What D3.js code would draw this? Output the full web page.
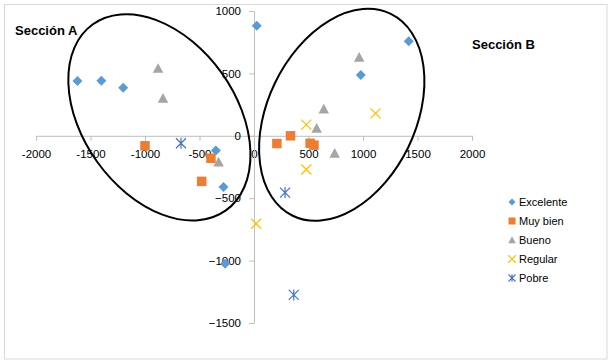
<!DOCTYPE html>
<html><head><meta charset="utf-8">
<script src="https://cdn.jsdelivr.net/npm/d3@7"></script>
<style>body{margin:0;background:#fff}svg{display:block}</style>
</head><body>
<svg id="c" width="611" height="363"></svg>
<script>
const xTicks = [-2000,-1500,-1000,-500,0,500,1000,1500,2000];
const yTicks = [-1500,-1000,-500,0,500,1000];
const seriesNames = ["Excelente","Muy bien","Bueno","Regular","Pobre"];
const excelente = [[-1620,440],[-1400,442],[-1200,385],[25,882],[-350,-118],[-280,-410],[-265,-1025],[1420,757],[980,487]];
const muyBien = [[-1000,-80],[-395,-180],[-480,-365],[210,-62],[335,0],[515,-60],[550,-75]];
const bueno = [[-880,540],[-835,300],[-325,-210],[965,630],[640,215],[575,60],[740,-140]];
const regular = [[480,90],[480,-270],[1115,180],[20,-705]];
const pobre = [[-670,-60],[285,-455],[365,-1275]];
const sectionLabels = ["Sección A","Sección B"];
const ellipseCenters = [[-868,148],[805,168]];

const colors = ["#5B9BD5","#ED7D31","#A5A5A5","#FFC000","#4472C4"];
const shapes = ["diamond","square","triangle","x","star"];
const allSeries = [excelente, muyBien, bueno, regular, pobre];

const svg = d3.select("#c");
svg.append("rect").attr("x",4.5).attr("y",4.5).attr("width",602.5).attr("height",354.5)
  .attr("fill","#fff").attr("stroke","#d9d9d9").attr("stroke-width",1);

const x = d3.scaleLinear().domain([-2000,2000]).range([36,472]);
const y = d3.scaleLinear().domain([-1500,1000]).range([323,11]);

const font = "'Liberation Sans', Arial, sans-serif";

const gx = svg.append("g").attr("transform",`translate(0,${y(0)})`)
  .call(d3.axisBottom(x).tickValues(xTicks).tickSize(5).tickSizeOuter(0).tickPadding(9).tickFormat(d3.format("d")));
const gy = svg.append("g").attr("transform",`translate(${x(0)},0)`)
  .call(d3.axisLeft(y).tickValues(yTicks).tickSize(5).tickSizeOuter(0).tickPadding(8).tickFormat(d3.format("d")));
[gx,gy].forEach(g=>{
  g.select(".domain").attr("stroke","#bfbfbf");
  g.selectAll(".tick line").attr("stroke","#bfbfbf");
  g.selectAll(".tick text").attr("fill","#000").style("font-family",font).style("font-size","11.5px");
});
gx.selectAll(".tick text").text(d=>String(d).replace("-","-"));

function markerPath(shape, s){
  const h=s/2;
  if(shape==="diamond") return `M0,${-h}L${h},0L0,${h}L${-h},0Z`;
  if(shape==="square") return `M${-h},${-h}H${h}V${h}H${-h}Z`;
  if(shape==="triangle") return `M0,${-h}L${h},${h*0.85}L${-h},${h*0.85}Z`;
  if(shape==="x") return `M${-h},${-h}L${h},${h}M${h},${-h}L${-h},${h}`;
  if(shape==="star") return `M${-h},${-h}L${h},${h}M${h},${-h}L${-h},${h}M0,${-h*1.1}V${h*1.1}`;
}
const sizes = {diamond:10,square:9.5,triangle:10.5,x:10,star:10};
const lsizes = {diamond:7,square:7,triangle:7.5,x:7.5,star:7};

// ellipses
const ellParams = [{rx:114.4,ry:76.5,rot:54.47},{rx:112.2,ry:74.0,rot:-64.07}];
svg.append("g").selectAll("ellipse").data(ellipseCenters).join("ellipse")
  .attr("transform",(d,i)=>`translate(${x(d[0])},${y(d[1])}) rotate(${ellParams[i].rot})`)
  .attr("rx",(d,i)=>ellParams[i].rx).attr("ry",(d,i)=>ellParams[i].ry)
  .attr("fill","none").attr("stroke","#000").attr("stroke-width",2);

// points
allSeries.forEach((data,si)=>{
  const sh = shapes[si];
  const line = (sh==="x"||sh==="star");
  svg.append("g").selectAll("path").data(data).join("path")
    .attr("transform",d=>`translate(${x(d[0])},${y(d[1])})`)
    .attr("d",markerPath(sh,sizes[sh]))
    .attr("fill",line?"none":colors[si])
    .attr("stroke",line?colors[si]:"none")
    .attr("stroke-width",1.2);
});

// section labels
svg.append("text").attr("x",15).attr("y",35).text(sectionLabels[0])
  .style("font-family",font).style("font-size","13px").style("font-weight","bold");
svg.append("text").attr("x",472).attr("y",49).text(sectionLabels[1])
  .style("font-family",font).style("font-size","13px").style("font-weight","bold");

// legend
const leg = svg.append("g");
seriesNames.forEach((n,i)=>{
  const sh=shapes[i]; const line=(sh==="x"||sh==="star");
  const cy = 202 + i*19;
  leg.append("path").attr("transform",`translate(512,${cy})`).attr("d",markerPath(sh,lsizes[sh]))
    .attr("fill",line?"none":colors[i]).attr("stroke",line?colors[i]:"none").attr("stroke-width",1.1);
  leg.append("text").attr("x",519).attr("y",cy+4).text(n)
    .style("font-family",font).style("font-size","11px").attr("fill","#000");
});
</script>
</body></html>
